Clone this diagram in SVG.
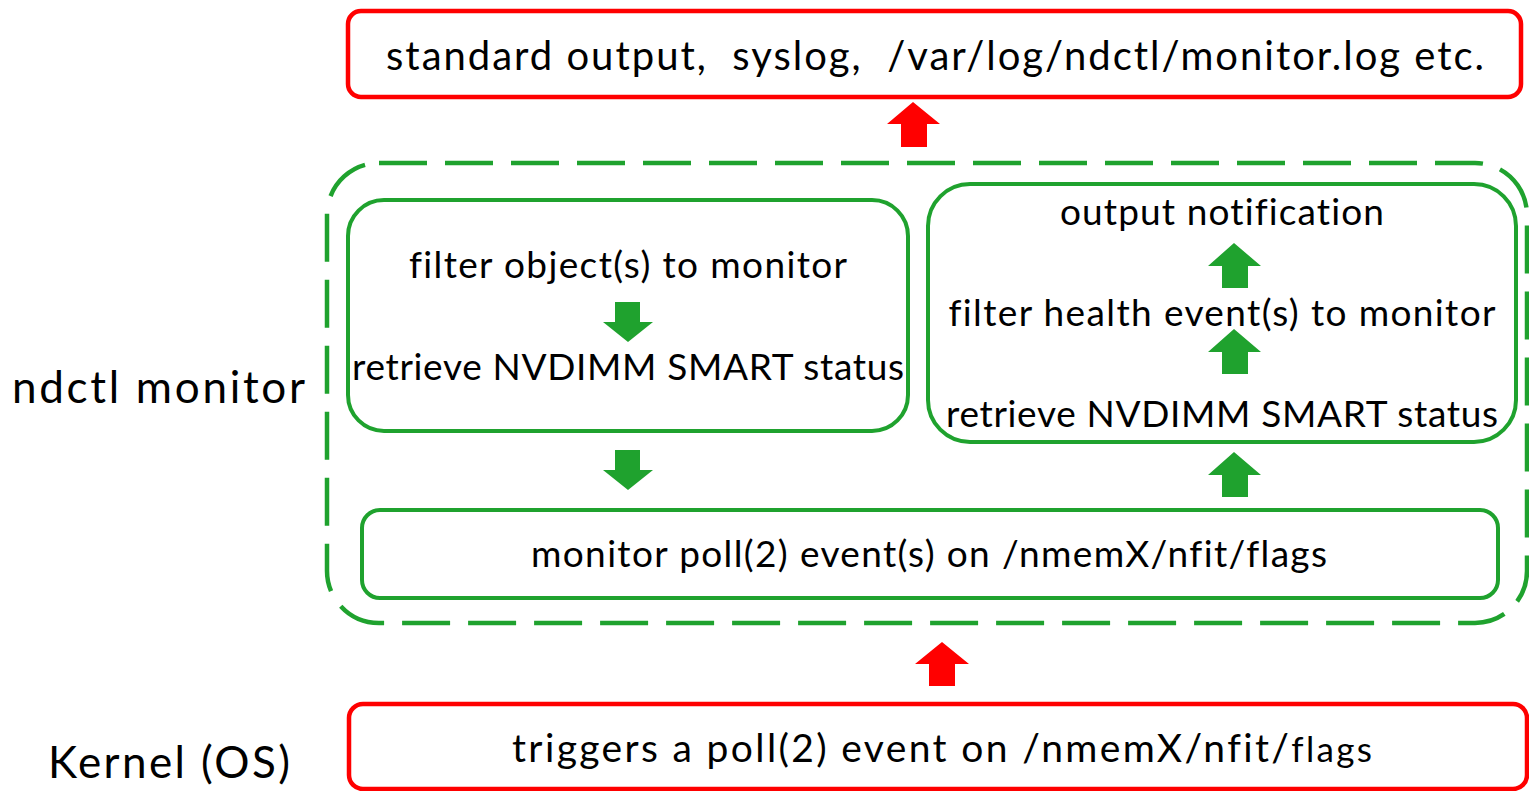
<svg xmlns="http://www.w3.org/2000/svg" width="1529" height="791" viewBox="0 0 1529 791">
<style>
.t{font-family:Lato,"Noto Sans","Liberation Sans",sans-serif;font-size:37px;fill:#000;text-anchor:middle;font-variant-ligatures:none;white-space:pre}
.big{font-size:44px;text-anchor:start}
.red{fill:#fff;stroke:#ff0000;stroke-width:4.5}
.grn{fill:#fff;stroke:#1fa22e;stroke-width:4}
.dash{fill:none;stroke:#1fa22e;stroke-width:4.5;stroke-dasharray:48 18}
.ra{fill:#ff0000}
.ga{fill:#1fa22e}
</style>
<rect width="1529" height="791" fill="#fff"/>
<g id="ndctl-label"><text class="t big" x="12" y="403" textLength="293">ndctl monitor</text></g>
<g id="kernel-label"><text class="t big" x="48" y="778" textLength="242">Kernel (OS)</text></g>
<g id="output-box">
<rect class="red" x="348" y="11" width="1173" height="86" rx="13"/>
<text class="t" x="935" y="70" style="font-size:40px" textLength="1098">standard output,  syslog,  /var/log/ndctl/monitor.log etc.</text>
</g>
<g id="monitor-group">
<rect class="dash" x="327" y="163" width="1200" height="460" rx="52"/>
</g>
<g id="filter-box">
<rect class="grn" x="348" y="200" width="560" height="231" rx="36"/>
<text class="t" x="628" y="278" textLength="438">filter object(s) to monitor</text>
<text class="t" x="628" y="380" textLength="552">retrieve NVDIMM SMART status</text>
</g>
<g id="notify-box">
<rect class="grn" x="928" y="184" width="588" height="258" rx="42"/>
<text class="t" x="1222" y="225" textLength="324">output notification</text>
<text class="t" x="1222" y="326" textLength="547">filter health event(s) to monitor</text>
<text class="t" x="1222" y="427" textLength="552">retrieve NVDIMM SMART status</text>
</g>
<g id="poll-box">
<rect class="grn" x="362" y="510" width="1136" height="88" rx="18"/>
<text class="t" x="929" y="567" textLength="796">monitor poll(2) event(s) on /nmemX/nfit/flags</text>
</g>
<g id="kernel-box">
<rect class="red" x="349" y="704" width="1178" height="85" rx="14"/>
<text class="t" x="942" y="762" style="font-size:39px" textLength="860">triggers a poll(2) event on /nmemX/nfit/<tspan style="font-size:35px">flags</tspan></text>
</g>
<g id="connectors">
<polygon class="ra" points="913,102 940,124 927,124 927,147 901,147 901,124 887,124"/>
<polygon class="ra" points="942,642 969,664 955,664 955,686 929,686 929,664 915,664"/>
<polygon class="ga" points="615,302 640,302 640,322 653,322 628,342 603,322 615,322"/>
<polygon class="ga" points="615,450 640,450 640,470 653,470 628,490 603,470 615,470"/>
<polygon class="ga" points="1234,243 1261,266 1248,266 1248,288 1222,288 1222,266 1208,266"/>
<polygon class="ga" points="1234,329 1261,352 1248,352 1248,374 1222,374 1222,352 1208,352"/>
<polygon class="ga" points="1234,452 1261,475 1248,475 1248,497 1222,497 1222,475 1208,475"/>
</g>
</svg>
